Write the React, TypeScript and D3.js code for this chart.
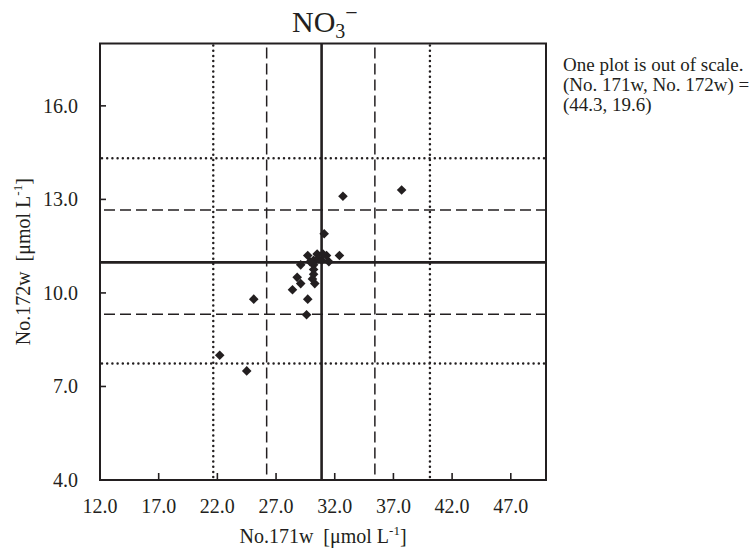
import React from "react";
import * as d3 from "d3";

const xValues = [32.7, 37.7, 31.1, 29.7, 30.5, 31.3, 32.4, 31.5, 29.1, 28.8, 29.1, 28.4, 30.3, 25.1, 29.7, 29.6, 22.2, 24.5, 30.2, 30.2, 30.2, 30.2, 30.1, 30.6, 29.9, 30.9, 31.0];
const yValues = [13.1, 13.3, 11.9, 11.2, 11.25, 11.2, 11.2, 11.0, 10.9, 10.5, 10.3, 10.1, 10.3, 9.8, 9.8, 9.3, 8.0, 7.5, 11.05, 10.9, 10.75, 10.6, 10.45, 11.1, 11.0, 11.05, 11.25];

const xTicks = [12, 17, 22, 27, 32, 37, 42, 47];
const yTicks = [4, 7, 10, 13, 16];

const xMean = 30.88;
const xDashed = [26.2, 35.42];
const xDotted = [21.65, 40.11];
const yMean = 10.98;
const yDashed = [12.66, 9.32];
const yDotted = [14.32, 7.74];

const noteLines = ["One plot is out of scale.", "(No. 171w, No. 172w) =", "(44.3, 19.6)"];

const INK = "#231f20";
const FONT = "Liberation Serif, Times New Roman, serif";

export default function App() {
  const left = 100, right = 546, top = 43.5, bottom = 480;
  const x = d3.scaleLinear().domain([12, 50]).range([left, right]);
  const y = d3.scaleLinear().domain([4, 18]).range([bottom, top]);
  const r = 4.8;
  const diamond = (cx: number, cy: number) =>
    `M${cx},${cy - r}L${cx + r},${cy}L${cx},${cy + r}L${cx - r},${cy}Z`;

  return (
    <svg width={750} height={549} style={{ position: "absolute", left: 0, top: 0, background: "#fff", fontFamily: FONT }}>
      <rect x={0} y={0} width={750} height={549} fill="#fff" />
      {xDotted.map((v, i) => (
        <line key={"xd" + i} x1={x(v)} x2={x(v)} y1={top + 2} y2={bottom} stroke={INK} strokeWidth={2.5} strokeDasharray="0,5.2" strokeLinecap="round" />
      ))}
      {yDotted.map((v, i) => (
        <line key={"yd" + i} x1={left + 2} x2={right} y1={y(v)} y2={y(v)} stroke={INK} strokeWidth={2.5} strokeDasharray="0,5.2" strokeLinecap="round" />
      ))}
      {xDashed.map((v, i) => (
        <line key={"xs" + i} x1={x(v)} x2={x(v)} y1={top + 4} y2={bottom} stroke={INK} strokeWidth={1.5} strokeDasharray="11,5" />
      ))}
      {yDashed.map((v, i) => (
        <line key={"ys" + i} x1={left + 4} x2={right} y1={y(v)} y2={y(v)} stroke={INK} strokeWidth={1.5} strokeDasharray="11,5" />
      ))}
      <line x1={x(xMean)} x2={x(xMean)} y1={top} y2={bottom} stroke={INK} strokeWidth={2.6} />
      <line x1={left} x2={right} y1={y(yMean)} y2={y(yMean)} stroke={INK} strokeWidth={2.6} />
      <rect x={left} y={top} width={right - left} height={bottom - top} fill="none" stroke={INK} strokeWidth={2} />
      {xTicks.map((t) => (
        <g key={"xt" + t}>
          <line x1={x(t)} x2={x(t)} y1={bottom} y2={bottom - 7} stroke={INK} strokeWidth={1.6} />
          <text x={x(t)} y={513} textAnchor="middle" fontSize={20} fill={INK}>{t.toFixed(1)}</text>
        </g>
      ))}
      {yTicks.map((t) => (
        <g key={"yt" + t}>
          <line x1={left} x2={left + 6} y1={y(t)} y2={y(t)} stroke={INK} strokeWidth={1.6} />
          <text x={78} y={y(t)} dy="0.34em" textAnchor="end" fontSize={20} fill={INK}>{t.toFixed(1)}</text>
        </g>
      ))}
      {xValues.map((v, i) => (
        <path key={"p" + i} d={diamond(x(v), y(yValues[i]))} fill={INK} />
      ))}
      <text x={292} y={31.7} fontSize={30} fill={INK}>
        NO<tspan fontSize={20} dy={6}>3</tspan><tspan fontSize={22} dy={-18}>−</tspan>
      </text>
      <text x={323} y={543} textAnchor="middle" fontSize={20} fill={INK} style={{ whiteSpace: "pre" }}>
        {"No.171w  [μmol L"}<tspan fontSize={13} dy={-8}>-1</tspan><tspan dy={8}>]</tspan>
      </text>
      <text transform={`translate(30,${(top + bottom) / 2}) rotate(-90)`} textAnchor="middle" fontSize={20} fill={INK} style={{ whiteSpace: "pre" }}>
        {"No.172w  [μmol L"}<tspan fontSize={13} dy={-8}>-1</tspan><tspan dy={8}>]</tspan>
      </text>
      {noteLines.map((s, i) => (
        <text key={"n" + i} x={563} y={71 + i * 20} fontSize={19} fill={INK}>{s}</text>
      ))}
    </svg>
  );
}
